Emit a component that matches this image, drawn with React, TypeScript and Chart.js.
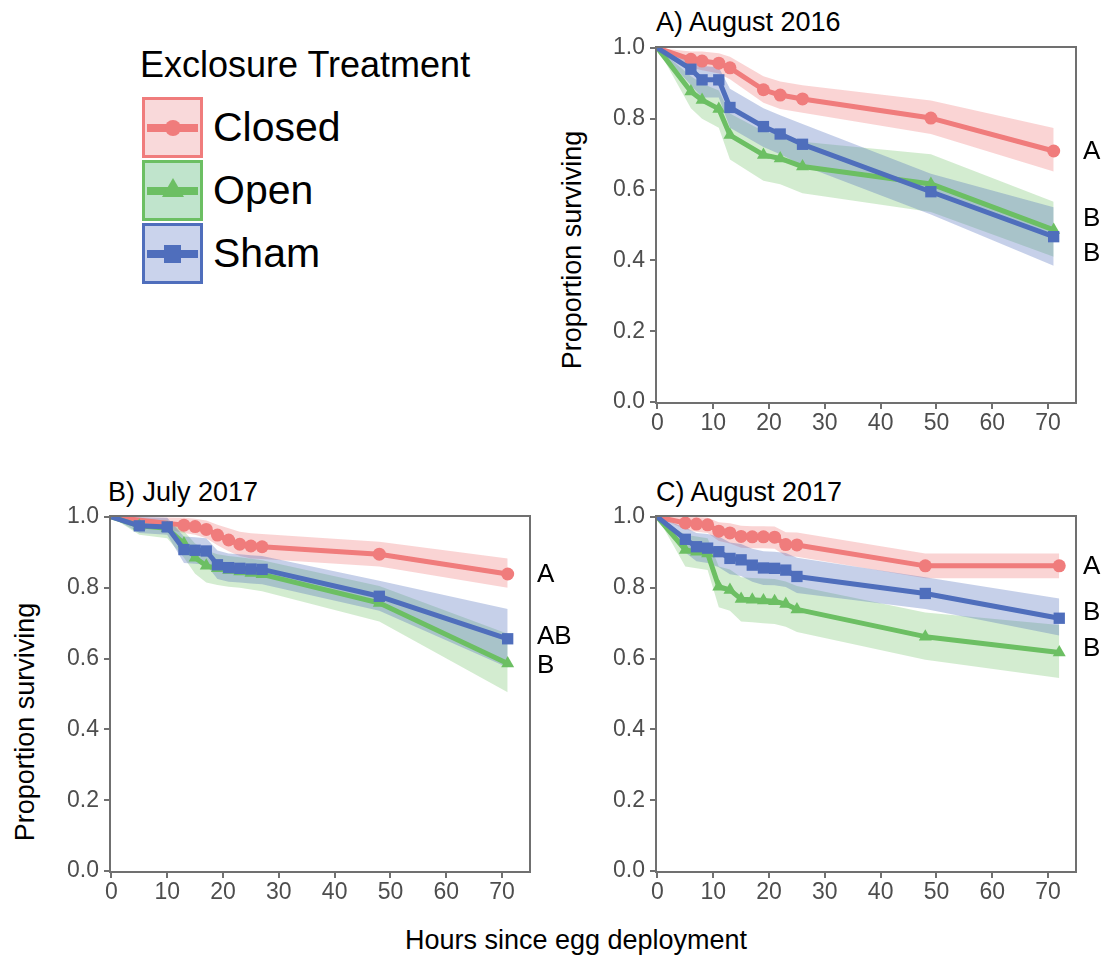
import React, { useEffect, useRef } from "react";
import { Chart, registerables } from "chart.js";
Chart.register(...registerables);

const FONT = "'Liberation Sans', Arial, Helvetica, sans-serif";

const groups = ["Closed", "Open", "Sham"];
const lineColors = ["#F07C7C", "#6CBF63", "#4F6EBC"];
const ribbonColors = ["rgba(240,124,124,0.33)", "rgba(108,191,99,0.3)", "rgba(79,110,188,0.32)"];
const legendFills = ["#F9D9DA", "#C0E4CC", "#CAD3EC"];
const pointStyles = ["circle", "triangle", "rect"];
const pointRadii = [6.5, 7.5, 8];

const xTicks = [0, 10, 20, 30, 40, 50, 60, 70];
const yTicks = [0, 0.2, 0.4, 0.6, 0.8, 1.0];

// ---- A) August 2016 ----
const aug16Hours = [0, 6, 8, 11, 13, 19, 22, 26, 49, 71];
const aug16ClosedSurv = [1, 0.968, 0.963, 0.957, 0.944, 0.882, 0.867, 0.856, 0.802, 0.709];
const aug16ClosedUpper = [1, 0.99, 0.99, 0.985, 0.975, 0.92, 0.905, 0.895, 0.852, 0.774];
const aug16ClosedLower = [1, 0.945, 0.937, 0.928, 0.912, 0.845, 0.828, 0.817, 0.757, 0.651];
const aug16OpenSurv = [1, 0.877, 0.853, 0.828, 0.754, 0.698, 0.688, 0.665, 0.616, 0.486];
const aug16OpenUpper = [1, 0.92, 0.9, 0.88, 0.815, 0.765, 0.755, 0.735, 0.7, 0.566];
const aug16OpenLower = [1, 0.83, 0.8, 0.775, 0.685, 0.625, 0.615, 0.59, 0.537, 0.41];
const aug16ShamSurv = [1, 0.94, 0.91, 0.91, 0.832, 0.778, 0.757, 0.728, 0.594, 0.467];
const aug16ShamUpper = [1, 0.97, 0.95, 0.945, 0.885, 0.83, 0.81, 0.785, 0.645, 0.55];
const aug16ShamLower = [1, 0.895, 0.86, 0.86, 0.775, 0.72, 0.7, 0.668, 0.53, 0.385];
const aug16Letters = ["A", "B", "B"];
const aug16LetterY = [0.706, 0.517, 0.418];

// ---- B) July 2017 ----
const jul17ClosedHours = [0, 13, 15, 17, 19, 21, 23, 25, 27, 48, 71];
const jul17ClosedSurv = [1, 0.977, 0.973, 0.965, 0.949, 0.935, 0.923, 0.918, 0.916, 0.895, 0.839];
const jul17ClosedUpper = [1, 0.998, 0.995, 0.99, 0.978, 0.968, 0.958, 0.954, 0.952, 0.93, 0.883];
const jul17ClosedLower = [1, 0.955, 0.95, 0.94, 0.92, 0.903, 0.89, 0.883, 0.881, 0.86, 0.8];
const jul17Hours = [0, 5, 10, 13, 15, 17, 19, 21, 23, 25, 27, 48, 71];
const jul17OpenSurv = [1, 0.975, 0.968, 0.925, 0.885, 0.862, 0.855, 0.85, 0.846, 0.842, 0.838, 0.757, 0.586];
const jul17OpenUpper = [1, 0.995, 0.99, 0.96, 0.925, 0.905, 0.895, 0.89, 0.886, 0.882, 0.878, 0.805, 0.67];
const jul17OpenLower = [1, 0.95, 0.94, 0.885, 0.84, 0.815, 0.808, 0.803, 0.8, 0.795, 0.79, 0.705, 0.505];
const jul17ShamSurv = [1, 0.975, 0.972, 0.908, 0.906, 0.904, 0.865, 0.857, 0.855, 0.853, 0.852, 0.776, 0.656];
const jul17ShamUpper = [1, 1.0, 0.998, 0.945, 0.943, 0.94, 0.905, 0.897, 0.895, 0.892, 0.89, 0.82, 0.74];
const jul17ShamLower = [1, 0.955, 0.95, 0.87, 0.868, 0.865, 0.825, 0.817, 0.815, 0.812, 0.81, 0.735, 0.575];
const jul17Letters = ["A", "AB", "B"];
const jul17LetterY = [0.836, 0.661, 0.579];

// ---- C) August 2017 ----
const aug17Hours = [0, 5, 7, 9, 11, 13, 15, 17, 19, 21, 23, 25, 48, 72];
const aug17ClosedSurv = [1, 0.983, 0.98, 0.978, 0.96, 0.955, 0.945, 0.944, 0.944, 0.943, 0.922, 0.921, 0.862, 0.862];
const aug17ClosedUpper = [1, 1.0, 1.0, 0.998, 0.985, 0.982, 0.975, 0.974, 0.974, 0.973, 0.957, 0.956, 0.897, 0.897];
const aug17ClosedLower = [1, 0.965, 0.958, 0.955, 0.932, 0.925, 0.913, 0.912, 0.912, 0.91, 0.89, 0.888, 0.827, 0.827];
const aug17OpenSurv = [1, 0.907, 0.902, 0.897, 0.803, 0.794, 0.768, 0.766, 0.764, 0.762, 0.754, 0.739, 0.662, 0.617];
const aug17OpenUpper = [1, 0.95, 0.945, 0.94, 0.86, 0.852, 0.83, 0.828, 0.826, 0.825, 0.818, 0.805, 0.73, 0.695];
const aug17OpenLower = [1, 0.86, 0.855, 0.85, 0.745, 0.735, 0.705, 0.703, 0.7, 0.698, 0.69, 0.675, 0.597, 0.545];
const aug17ShamSurv = [1, 0.937, 0.916, 0.912, 0.902, 0.883, 0.879, 0.864, 0.856, 0.855, 0.85, 0.832, 0.784, 0.714];
const aug17ShamUpper = [1, 0.97, 0.955, 0.952, 0.945, 0.928, 0.924, 0.91, 0.903, 0.902, 0.898, 0.885, 0.83, 0.77];
const aug17ShamLower = [1, 0.9, 0.875, 0.87, 0.858, 0.838, 0.833, 0.817, 0.808, 0.807, 0.802, 0.785, 0.74, 0.665];
const aug17Letters = ["A", "B", "B"];
const aug17LetterY = [0.859, 0.729, 0.627];

type Series = { hours: number[]; surv: number[]; upper: number[]; lower: number[] };

const pts = (h: number[], v: number[]) => h.map((x, i) => ({ x, y: v[i] }));

function Panel(props: {
  left: number;
  top: number;
  width: number;
  series: Series[];
  letters: string[];
  letterY: number[];
}) {
  const ref = useRef<HTMLCanvasElement>(null);
  useEffect(() => {
    if (!ref.current) return;
    const datasets: any[] = [];
    props.series.forEach((s, g) => {
      datasets.push({
        label: groups[g] + " upper",
        data: pts(s.hours, s.upper),
        fill: "+1",
        backgroundColor: ribbonColors[g],
        borderColor: "transparent",
        borderWidth: 0,
        pointRadius: 0,
        tension: 0,
        order: 20 - g,
      });
      datasets.push({
        label: groups[g] + " lower",
        data: pts(s.hours, s.lower),
        fill: false,
        borderColor: "transparent",
        borderWidth: 0,
        pointRadius: 0,
        tension: 0,
        order: 20 - g,
      });
    });
    props.series.forEach((s, g) => {
      datasets.push({
        label: groups[g],
        data: pts(s.hours, s.surv),
        fill: false,
        borderColor: lineColors[g],
        backgroundColor: lineColors[g],
        borderWidth: 5,
        borderJoinStyle: "round",
        tension: 0,
        pointStyle: pointStyles[g],
        pointRadius: (ctx: any) => (ctx.raw && ctx.raw.x === 0 ? 0 : pointRadii[g]),
        pointBackgroundColor: lineColors[g],
        pointBorderWidth: 0,
        order: 5 - g,
      });
    });

    const framePlugin = {
      id: "frame",
      afterDatasetsDraw(chart: any) {
        const { ctx, chartArea: a } = chart;
        ctx.save();
        ctx.strokeStyle = "#707070";
        ctx.lineWidth = 2;
        ctx.strokeRect(a.left, a.top, a.right - a.left, a.bottom - a.top);
        ctx.restore();
      },
    };
    const letterPlugin = {
      id: "letters",
      afterDraw(chart: any) {
        const { ctx, chartArea: a } = chart;
        const ys = chart.scales.y;
        ctx.save();
        ctx.fillStyle = "#000";
        ctx.font = `26px ${FONT}`;
        ctx.textAlign = "left";
        ctx.textBaseline = "middle";
        props.letters.forEach((t, i) => {
          ctx.fillText(t, a.right + 7, ys.getPixelForValue(props.letterY[i]));
        });
        ctx.restore();
      },
    };

    const chart = new Chart(ref.current, {
      type: "line",
      data: { datasets },
      plugins: [framePlugin, letterPlugin],
      options: {
        animation: false,
        responsive: false,
        maintainAspectRatio: false,
        layout: { padding: { top: 10, right: props.width - 480, left: 0, bottom: 0 } },
        plugins: {
          legend: { display: false },
          tooltip: { enabled: false },
          title: { display: false },
        },
        scales: {
          x: {
            type: "linear",
            min: -0.25,
            max: 75,
            afterBuildTicks: (s: any) => {
              s.ticks = xTicks.map((v) => ({ value: v }));
            },
            afterFit: (s: any) => {
              s.height = 44;
              s.paddingLeft = 0;
              s.paddingRight = 0;
            },
            ticks: {
              color: "#4D4D4D",
              font: { family: FONT, size: 23 },
              padding: 1,
              maxRotation: 0,
              autoSkip: false,
              callback: (v: any) => String(v),
            },
            grid: { drawOnChartArea: false, drawTicks: true, tickLength: 6, color: "#707070", lineWidth: 2 },
            border: { display: false },
          },
          y: {
            type: "linear",
            min: -0.0028,
            max: 1.0028,
            afterBuildTicks: (s: any) => {
              s.ticks = yTicks.map((v) => ({ value: v }));
            },
            afterFit: (s: any) => {
              s.width = 60;
              s.paddingTop = 0;
              s.paddingBottom = 0;
            },
            ticks: {
              color: "#4D4D4D",
              font: { family: FONT, size: 23 },
              padding: 5,
              autoSkip: false,
              callback: (v: any) => Number(v).toFixed(1),
            },
            grid: { drawOnChartArea: false, drawTicks: true, tickLength: 6, color: "#707070", lineWidth: 2 },
            border: { display: false },
          },
        },
      } as any,
    });
    return () => chart.destroy();
  }, []);
  return (
    <canvas
      ref={ref}
      width={props.width}
      height={410}
      style={{ position: "absolute", left: props.left, top: props.top, width: props.width, height: 410 }}
    />
  );
}

const abs = (x: number, y: number, size: number, extra: any = {}) => ({
  position: "absolute" as const,
  left: x,
  top: y,
  fontSize: size,
  lineHeight: 1,
  whiteSpace: "nowrap" as const,
  color: "#000",
  ...extra,
});

function LegendKey(props: { g: number; top: number }) {
  const { g, top } = props;
  const c = lineColors[g];
  const cx = 30.5;
  const cy = 30.5;
  let marker: any;
  if (g === 0) {
    marker = <div style={{ position: "absolute", left: cx - 8, top: cy - 8, width: 16, height: 16, borderRadius: "50%", background: c }} />;
  } else if (g === 1) {
    marker = (
      <div
        style={{
          position: "absolute",
          left: cx - 11,
          top: cy - 13,
          width: 0,
          height: 0,
          borderLeft: "11px solid transparent",
          borderRight: "11px solid transparent",
          borderBottom: `19px solid ${c}`,
        }}
      />
    );
  } else {
    marker = <div style={{ position: "absolute", left: cx - 8.5, top: cy - 9, width: 17, height: 18, background: c }} />;
  }
  return (
    <div
      style={{
        position: "absolute",
        left: 142,
        top,
        width: 61,
        height: 61,
        boxSizing: "border-box",
        border: `3px solid ${c}`,
        background: legendFills[g],
      }}
    >
      <div style={{ position: "absolute", left: 2, top: cy - 4 - 3, width: 51, height: 8, background: c }} />
      <div style={{ position: "absolute", left: -3, top: -3, width: 61, height: 61 }}>{marker}</div>
    </div>
  );
}

export default function App() {
  const aug16: Series[] = [
    { hours: aug16Hours, surv: aug16ClosedSurv, upper: aug16ClosedUpper, lower: aug16ClosedLower },
    { hours: aug16Hours, surv: aug16OpenSurv, upper: aug16OpenUpper, lower: aug16OpenLower },
    { hours: aug16Hours, surv: aug16ShamSurv, upper: aug16ShamUpper, lower: aug16ShamLower },
  ];
  const jul17: Series[] = [
    { hours: jul17ClosedHours, surv: jul17ClosedSurv, upper: jul17ClosedUpper, lower: jul17ClosedLower },
    { hours: jul17Hours, surv: jul17OpenSurv, upper: jul17OpenUpper, lower: jul17OpenLower },
    { hours: jul17Hours, surv: jul17ShamSurv, upper: jul17ShamUpper, lower: jul17ShamLower },
  ];
  const aug17: Series[] = [
    { hours: aug17Hours, surv: aug17ClosedSurv, upper: aug17ClosedUpper, lower: aug17ClosedLower },
    { hours: aug17Hours, surv: aug17OpenSurv, upper: aug17OpenUpper, lower: aug17OpenLower },
    { hours: aug17Hours, surv: aug17ShamSurv, upper: aug17ShamUpper, lower: aug17ShamLower },
  ];
  const center = { transform: "translate(-50%,-50%)" };
  const vcenter = { transform: "translateY(-50%)" };
  const rot = { transform: "translate(-50%,-50%) rotate(-90deg)" };
  return (
    <div
      style={{
        position: "absolute",
        left: 0,
        top: 0,
        width: 1106,
        height: 955,
        overflow: "hidden",
        background: "#fff",
        fontFamily: FONT,
      }}
    >
      {/* Legend */}
      <div style={abs(140, 64.5, 36, vcenter)}>Exclosure Treatment</div>
      {[0, 1, 2].map((g) => (
        <LegendKey key={g} g={g} top={97 + g * 63} />
      ))}
      <div style={abs(213, 126.7, 41, vcenter)}>Closed</div>
      <div style={abs(213, 190, 41, vcenter)}>Open</div>
      <div style={abs(213, 252.5, 41, vcenter)}>Sham</div>

      {/* Panel titles */}
      <div style={abs(656, 22, 27, vcenter)}>A) August 2016</div>
      <div style={abs(108, 492, 27, vcenter)}>B) July 2017</div>
      <div style={abs(656, 492, 27, vcenter)}>C) August 2017</div>

      {/* Axis titles */}
      <div style={abs(572, 250, 27, rot)}>Proportion surviving</div>
      <div style={abs(25, 722, 27, rot)}>Proportion surviving</div>
      <div style={abs(576, 940, 27, center)}>Hours since egg deployment</div>

      <Panel left={596} top={37} width={510} series={aug16} letters={aug16Letters} letterY={aug16LetterY} />
      <Panel left={50} top={506} width={546} series={jul17} letters={jul17Letters} letterY={jul17LetterY} />
      <Panel left={596} top={506} width={510} series={aug17} letters={aug17Letters} letterY={aug17LetterY} />
    </div>
  );
}
